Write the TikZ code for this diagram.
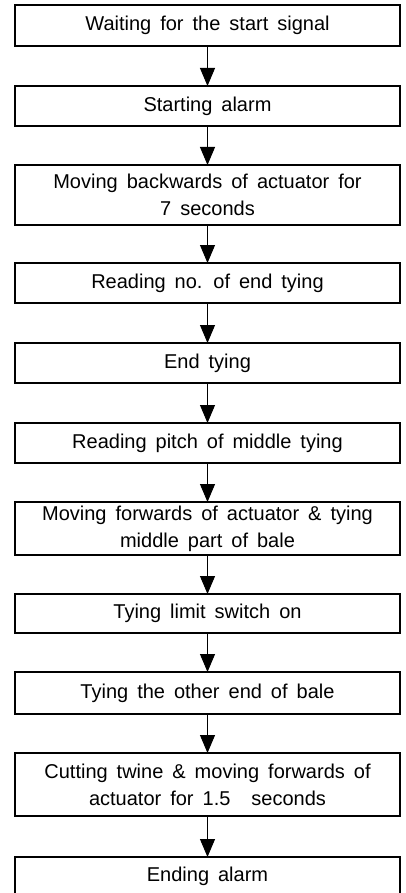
\documentclass[tikz,border=0pt]{standalone}
\usepackage{fontspec}
\setmainfont{Liberation Sans}
\usetikzlibrary{arrows.meta}
% wider word spacing for the box captions
\newcommand\boxfont{\fontsize{20}{26.7}\selectfont\spaceskip=0.45em\relax}
\begin{document}
\begin{tikzpicture}[x=1pt,y=-1pt,
  stepbox/.style={draw=black, line width=1.1pt, inner sep=0pt, outer sep=0pt,
    minimum width=385pt, align=center, font=\boxfont},
  flow/.style={line width=1pt, -{Triangle[width=15pt,length=18pt]}}]
\clip (0,0) rectangle (406,893);
\fill[white] (0,0) rectangle (406,893);
\node[stepbox, minimum height=41pt] (s1)  at (207.5,25.5)  {Waiting for the start signal};
\node[stepbox, minimum height=40pt] (s2)  at (207.5,106)   {Starting alarm};
\node[stepbox, minimum height=60pt] (s3)  at (207.5,195)   {Moving backwards of actuator for\\7 seconds};
\node[stepbox, minimum height=40pt] (s4)  at (207.5,283)   {Reading no. of end tying};
\node[stepbox, minimum height=40pt] (s5)  at (207.5,363)   {End tying};
\node[stepbox, minimum height=40pt] (s6)  at (207.5,443)   {Reading pitch of middle tying};
\node[stepbox, minimum height=53pt] (s7)  at (207.5,528.5) {Moving forwards of actuator \& tying\\middle part of bale};
\node[stepbox, minimum height=39pt] (s8)  at (207.5,613.5) {Tying limit switch on};
\node[stepbox, minimum height=42pt] (s9)  at (207.5,693)   {Tying the other end of bale};
\node[stepbox, minimum height=63pt] (s10) at (207.5,784.5) {Cutting twine \& moving forwards of\\actuator for 1.5\hspace{0.6em} seconds};
\node[stepbox, minimum height=64pt, text depth=30pt] (s11) at (207.5,889) {Ending alarm};
\foreach \a/\b in {s1/s2,s2/s3,s3/s4,s4/s5,s5/s6,s6/s7,s7/s8,s8/s9,s9/s10,s10/s11}
  \draw[flow] (\a.south) -- (\b.north);
\end{tikzpicture}
\end{document}
